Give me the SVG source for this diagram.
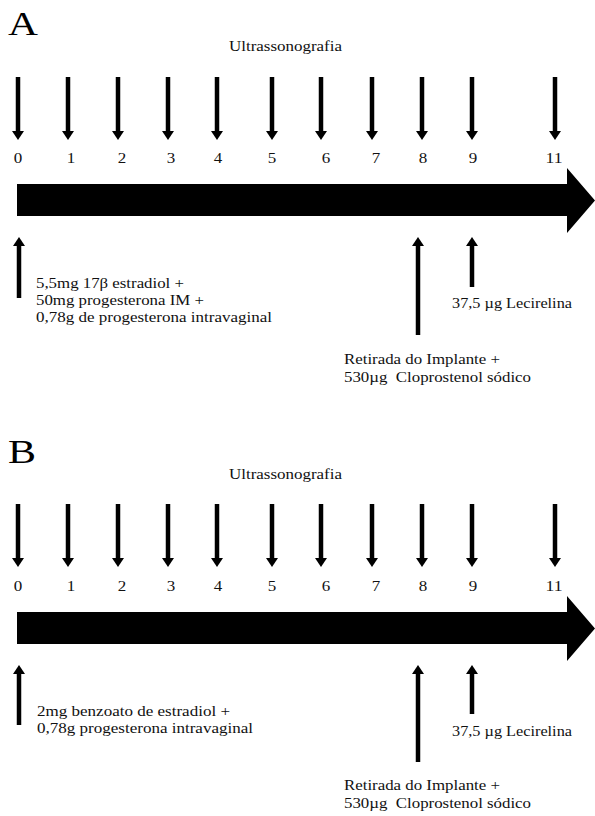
<svg xmlns="http://www.w3.org/2000/svg" width="595" height="816" viewBox="0 0 595 816">
<style>
  text { font-family: "Liberation Serif", "Times New Roman", serif; fill: #111; white-space: pre; }
  .lbl { font-size: 14px; }
  .num { font-size: 14px; text-anchor: middle; }
  .big { font-size: 33px; fill: #000; }
  .arr { stroke: #000; stroke-width: 4.5; fill: none; marker-end: url(#head); }
  .bar { fill: #000; }
</style>
<defs>
  <marker id="head" markerUnits="userSpaceOnUse" markerWidth="10" markerHeight="13" viewBox="0 0 10 13" refX="0" refY="6.5" orient="auto">
    <path d="M0,0.5 L9,6.5 L0,12.5 z" fill="#000"/>
  </marker>
</defs>

<!-- ============ Panel A ============ -->
<g id="panelA">
  <g id="A-title"><text class="big" x="8" y="35" textLength="30" lengthAdjust="spacingAndGlyphs">A</text></g>
  <g id="A-ultrassonografia"><text class="lbl" x="229" y="51" textLength="113" lengthAdjust="spacingAndGlyphs">Ultrassonografia</text></g>

  <g id="A-timeline"><path class="bar" d="M17,184 H567 V168 L595,200.5 L567,233 V216 H17 Z"/></g>

  <g id="A-day0"><text class="num" x="18" y="163" textLength="8.5" lengthAdjust="spacingAndGlyphs">0</text></g>
  <g id="A-day1"><text class="num" x="71" y="163" textLength="8.5" lengthAdjust="spacingAndGlyphs">1</text></g>
  <g id="A-day2"><text class="num" x="122" y="163" textLength="8.5" lengthAdjust="spacingAndGlyphs">2</text></g>
  <g id="A-day3"><text class="num" x="171" y="163" textLength="8.5" lengthAdjust="spacingAndGlyphs">3</text></g>
  <g id="A-day4"><text class="num" x="218" y="163" textLength="8.5" lengthAdjust="spacingAndGlyphs">4</text></g>
  <g id="A-day5"><text class="num" x="272" y="163" textLength="8.5" lengthAdjust="spacingAndGlyphs">5</text></g>
  <g id="A-day6"><text class="num" x="326" y="163" textLength="8.5" lengthAdjust="spacingAndGlyphs">6</text></g>
  <g id="A-day7"><text class="num" x="376" y="163" textLength="8.5" lengthAdjust="spacingAndGlyphs">7</text></g>
  <g id="A-day8"><text class="num" x="423" y="163" textLength="8.5" lengthAdjust="spacingAndGlyphs">8</text></g>
  <g id="A-day9"><text class="num" x="473" y="163" textLength="8.5" lengthAdjust="spacingAndGlyphs">9</text></g>
  <g id="A-day11"><text class="num" x="554" y="163" textLength="17" lengthAdjust="spacingAndGlyphs">11</text></g>

  <g id="A-treat0">
    <text class="lbl" x="36" y="288" textLength="148" lengthAdjust="spacingAndGlyphs">5,5mg 17β estradiol +</text>
    <text class="lbl" x="36" y="305" textLength="168" lengthAdjust="spacingAndGlyphs">50mg progesterona IM +</text>
    <text class="lbl" x="36" y="322" textLength="236" lengthAdjust="spacingAndGlyphs">0,78g de progesterona intravaginal</text>
  </g>
  <g id="A-treat9"><text class="lbl" x="452" y="308" textLength="120" lengthAdjust="spacingAndGlyphs">37,5 µg Lecirelina</text></g>
  <g id="A-treat8">
    <text class="lbl" x="344" y="364" textLength="156" lengthAdjust="spacingAndGlyphs">Retirada do Implante +</text>
    <text class="lbl" x="344" y="382" textLength="187" lengthAdjust="spacingAndGlyphs">530µg  Cloprostenol sódico</text>
  </g>

  <g id="A-connectors">
    <line class="arr" x1="18" y1="77" x2="18" y2="131"/>
    <line class="arr" x1="68" y1="77" x2="68" y2="131"/>
    <line class="arr" x1="118" y1="77" x2="118" y2="131"/>
    <line class="arr" x1="168" y1="77" x2="168" y2="131"/>
    <line class="arr" x1="217" y1="77" x2="217" y2="131"/>
    <line class="arr" x1="272" y1="77" x2="272" y2="131"/>
    <line class="arr" x1="321" y1="77" x2="321" y2="131"/>
    <line class="arr" x1="372" y1="77" x2="372" y2="131"/>
    <line class="arr" x1="422" y1="77" x2="422" y2="131"/>
    <line class="arr" x1="472" y1="77" x2="472" y2="131"/>
    <line class="arr" x1="555" y1="77" x2="555" y2="131"/>
    <line class="arr" x1="19" y1="298" x2="19" y2="246"/>
    <line class="arr" x1="418" y1="335" x2="418" y2="246"/>
    <line class="arr" x1="472" y1="287" x2="472" y2="246"/>
  </g>
</g>

<!-- ============ Panel B ============ -->
<g id="panelB" transform="translate(0,428)">
  <g id="B-title"><text class="big" x="8" y="35" textLength="28" lengthAdjust="spacingAndGlyphs">B</text></g>
  <g id="B-ultrassonografia"><text class="lbl" x="229" y="51" textLength="113" lengthAdjust="spacingAndGlyphs">Ultrassonografia</text></g>

  <g id="B-timeline"><path class="bar" d="M17,184 H567 V168 L595,200.5 L567,233 V216 H17 Z"/></g>

  <g id="B-day0"><text class="num" x="18" y="163" textLength="8.5" lengthAdjust="spacingAndGlyphs">0</text></g>
  <g id="B-day1"><text class="num" x="71" y="163" textLength="8.5" lengthAdjust="spacingAndGlyphs">1</text></g>
  <g id="B-day2"><text class="num" x="122" y="163" textLength="8.5" lengthAdjust="spacingAndGlyphs">2</text></g>
  <g id="B-day3"><text class="num" x="171" y="163" textLength="8.5" lengthAdjust="spacingAndGlyphs">3</text></g>
  <g id="B-day4"><text class="num" x="218" y="163" textLength="8.5" lengthAdjust="spacingAndGlyphs">4</text></g>
  <g id="B-day5"><text class="num" x="272" y="163" textLength="8.5" lengthAdjust="spacingAndGlyphs">5</text></g>
  <g id="B-day6"><text class="num" x="326" y="163" textLength="8.5" lengthAdjust="spacingAndGlyphs">6</text></g>
  <g id="B-day7"><text class="num" x="376" y="163" textLength="8.5" lengthAdjust="spacingAndGlyphs">7</text></g>
  <g id="B-day8"><text class="num" x="423" y="163" textLength="8.5" lengthAdjust="spacingAndGlyphs">8</text></g>
  <g id="B-day9"><text class="num" x="473" y="163" textLength="8.5" lengthAdjust="spacingAndGlyphs">9</text></g>
  <g id="B-day11"><text class="num" x="554" y="163" textLength="17" lengthAdjust="spacingAndGlyphs">11</text></g>

  <g id="B-treat0">
    <text class="lbl" x="37" y="288" textLength="193" lengthAdjust="spacingAndGlyphs">2mg benzoato de estradiol +</text>
    <text class="lbl" x="37" y="305" textLength="216" lengthAdjust="spacingAndGlyphs">0,78g progesterona intravaginal</text>
  </g>
  <g id="B-treat9"><text class="lbl" x="452" y="308" textLength="120" lengthAdjust="spacingAndGlyphs">37,5 µg Lecirelina</text></g>
  <g id="B-treat8">
    <text class="lbl" x="344" y="362" textLength="156" lengthAdjust="spacingAndGlyphs">Retirada do Implante +</text>
    <text class="lbl" x="344" y="380" textLength="187" lengthAdjust="spacingAndGlyphs">530µg  Cloprostenol sódico</text>
  </g>

  <g id="B-connectors">
    <line class="arr" x1="18" y1="76" x2="18" y2="130"/>
    <line class="arr" x1="68" y1="76" x2="68" y2="130"/>
    <line class="arr" x1="118" y1="76" x2="118" y2="130"/>
    <line class="arr" x1="168" y1="76" x2="168" y2="130"/>
    <line class="arr" x1="217" y1="76" x2="217" y2="130"/>
    <line class="arr" x1="272" y1="76" x2="272" y2="130"/>
    <line class="arr" x1="321" y1="76" x2="321" y2="130"/>
    <line class="arr" x1="372" y1="76" x2="372" y2="130"/>
    <line class="arr" x1="422" y1="76" x2="422" y2="130"/>
    <line class="arr" x1="472" y1="76" x2="472" y2="130"/>
    <line class="arr" x1="555" y1="76" x2="555" y2="130"/>
    <line class="arr" x1="19" y1="297" x2="19" y2="246"/>
    <line class="arr" x1="418" y1="334" x2="418" y2="246"/>
    <line class="arr" x1="472" y1="286" x2="472" y2="246"/>
  </g>
</g>
</svg>
